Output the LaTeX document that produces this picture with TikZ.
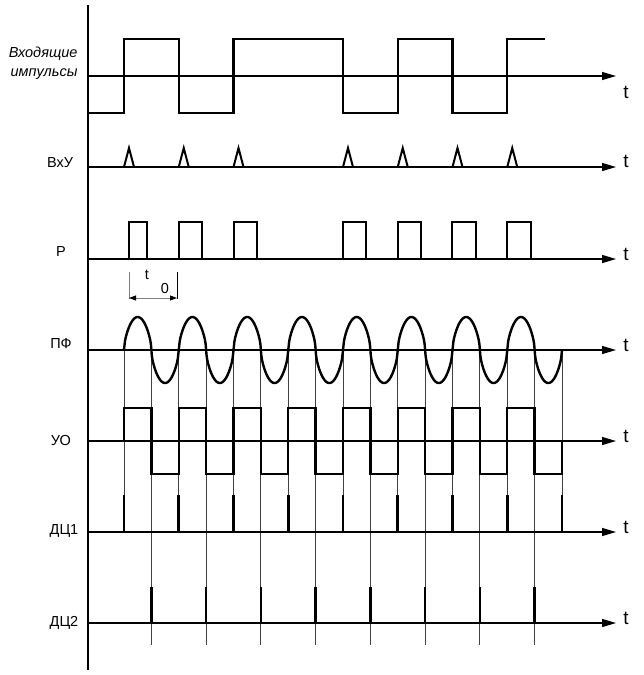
\documentclass[tikz,border=0pt]{standalone}
\usepackage{fontspec}
\setmainfont{Liberation Sans}
\usetikzlibrary{arrows.meta}

\begin{document}
\begin{tikzpicture}[x=1pt,y=-1pt,
    >={Triangle[length=14pt,width=8pt]},
    ax/.style={line width=1.2pt},
    sig/.style={line width=2.4pt},
    guide/.style={line width=0.8pt,black!75},
    lbl/.style={font=\fontsize{14.5}{16}\selectfont},
    tlbl/.style={font=\fontsize{19}{19}\selectfont}]
\useasboundingbox (0,0) rectangle (643,675);
% guide lines from the filter output
\foreach \k in {0,...,8} \draw[guide] ({124+\k*54.75},350) -- ({124+\k*54.75},532);
\foreach \k in {0,...,7} \draw[guide] ({151.375+\k*54.75},350) -- ({151.375+\k*54.75},645);
% axes
\draw[ax] (88,5) -- (88,670);
\foreach \y/\ty/\nm in {76/92/ta,167/161/tb,259/254/tc,350/345/td,441/436/te,532/527/tf,623/618/tg}{
  \draw[ax,->] (88,\y) -- (616,\y);
  \node[tlbl] (\nm) at (626,\ty) {t};
}
% input pulses
\draw[sig] (88,113) -- (124,113) -- (124,39) -- (178.75,39) -- (178.75,113) -- (233.5,113) -- (233.5,39)
  -- (343,39) -- (343,113) -- (397.75,113) -- (397.75,39) -- (452.5,39) -- (452.5,113)
  -- (507.25,113) -- (507.25,39) -- (545,39);
% edge spikes
\foreach \e in {124,178.75,233.5,343,397.75,452.5,507.25}
  \draw[line width=2pt] (\e,167) -- ({\e+5},148) -- ({\e+10},167);
% P pulses
\foreach \a/\b in {129/147,179/202,234/257,343/366,398/421,452/476,507/531}
  \draw[line width=2.2pt] (\a,259) -- (\a,222) -- (\b,222) -- (\b,259);
% t0
\draw[guide,gray] (129,272) -- (129,299);
\draw[guide,black] (177,272) -- (177,299);
\draw[guide,gray,{Triangle[length=7pt,width=5pt,black]}-{Triangle[length=7pt,width=5pt,black]}] (129,298) -- (177,298);
\node[lbl] (tz) at (147,275) {t};
\node[lbl] (zr) at (165,289) {0};
% filter output
\draw[sig,domain=124:562,samples=441,smooth] plot (\x,{350-33*sign(sin((\x-124)*6.57534))*(abs(sin((\x-124)*6.57534))+0.00001)^0.6});
% limiter output
\draw[sig] (124,441) \foreach \k in {0,...,7}{ -- ({124+\k*54.75},408) -- ({151.375+\k*54.75},408)
  -- ({151.375+\k*54.75},474) -- ({178.75+\k*54.75},474)} -- (562,441);
% differentiators
\foreach \k in {0,...,8} \draw[line width=2.6pt] ({124+\k*54.75},532) -- ({124+\k*54.75},495);
\foreach \k in {0,...,7} \draw[line width=2.6pt] ({151.375+\k*54.75},623) -- ({151.375+\k*54.75},587);
% labels
\node[font=\itshape\fontsize{14.5}{19}\selectfont,align=right,anchor=east] (vhod) at (81,63) {Входящие\\импульсы};
\node[lbl] (vxu) at (60,163) {ВхУ};
\node[lbl] (rr) at (61,252) {Р};
\node[lbl] (pf) at (61,344) {ПФ};
\node[lbl] (uo) at (61,441) {УО};
\node[lbl] (dc1) at (64,531) {ДЦ1};
\node[lbl] (dc2) at (64,623) {ДЦ2};
\end{tikzpicture}
\end{document}
